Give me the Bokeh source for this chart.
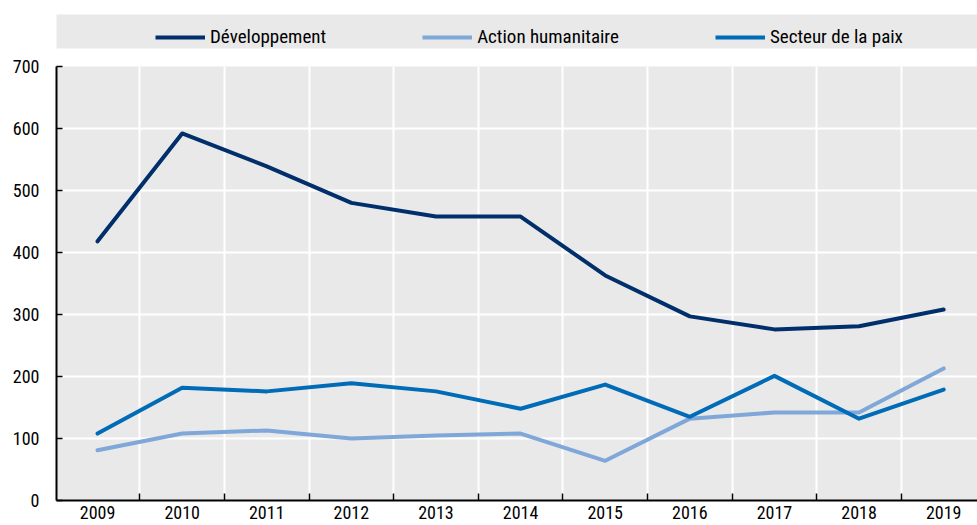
from bokeh.plotting import figure
from bokeh.models import FixedTicker, Legend, LegendItem, Range1d
from bokeh.layouts import column
from bokeh.embed import file_html
from bokeh.resources import INLINE

years = [2009, 2010, 2011, 2012, 2013, 2014, 2015, 2016, 2017, 2018, 2019]
developpement = [418, 592, 539, 480, 458, 458, 363, 297, 276, 281, 308]
action_humanitaire = [81, 108, 113, 100, 105, 108, 64, 132, 142, 142, 213]
secteur_paix = [108, 182, 176, 189, 176, 148, 187, 135, 201, 132, 179]
series_names = ["Développement", "Action humanitaire", "Secteur de la paix"]
colors = ["#002F6C", "#7FA8D9", "#006BB6"]
y_ticks = [0, 100, 200, 300, 400, 500, 600, 700]

FONT = "Roboto Condensed"
GREY = "#E9E9E9"
series = [developpement, action_humanitaire, secteur_paix]

# ---------------- main chart ----------------
p = figure(width=977, height=469, output_backend="svg", toolbar_location=None,
           x_range=Range1d(years[0] - 0.485, years[-1] + 0.40),
           y_range=Range1d(0, 700),
           min_border_left=56, min_border_right=0, min_border_top=10, min_border_bottom=25)
p.background_fill_color = GREY
p.border_fill_color = "white"
p.outline_line_color = None

for vals, c in zip(series, colors):
    p.line(years, vals, line_color=c, line_width=4, line_join="round", line_cap="round")

bounds = [y + 0.5 for y in years[:-1]]
p.xaxis.ticker = FixedTicker(ticks=years, minor_ticks=bounds)
p.xaxis.major_tick_line_color = None
p.xaxis.major_tick_out = 0
p.xaxis.major_tick_in = 0
p.xaxis.minor_tick_in = 7
p.xaxis.minor_tick_out = 0
p.xaxis.minor_tick_line_color = "black"
p.xaxis.minor_tick_line_width = 1.5
p.xaxis.axis_line_width = 2
p.xaxis.major_label_standoff = 5
p.xaxis.major_label_text_font = FONT
p.xaxis.major_label_text_font_size = "18px"
p.xaxis.major_label_text_color = "black"

p.yaxis.ticker = FixedTicker(ticks=y_ticks)
p.yaxis.major_tick_in = 6
p.yaxis.major_tick_out = 0
p.yaxis.major_tick_line_width = 1.5
p.yaxis.minor_tick_line_color = None
p.yaxis.axis_line_width = 2
p.yaxis.major_label_standoff = 17
p.yaxis.major_label_text_font = FONT
p.yaxis.major_label_text_font_size = "18px"
p.yaxis.major_label_text_color = "black"

p.xgrid.ticker = FixedTicker(ticks=bounds)
p.xgrid.grid_line_color = "white"
p.xgrid.grid_line_width = 2
p.ygrid.grid_line_color = "white"
p.ygrid.grid_line_width = 2

# ---------------- legend strip ----------------
lg = figure(width=977, height=56, output_backend="svg", toolbar_location=None,
            x_axis_type=None, y_axis_type=None,
            x_range=Range1d(years[0] - 0.485, years[-1] + 0.40),
            y_range=Range1d(1000, 1001),
            min_border_left=56, min_border_right=0, min_border_top=14, min_border_bottom=8)
lg.background_fill_color = GREY
lg.border_fill_color = "white"
lg.outline_line_color = None
lg.grid.visible = False

leg_renderers = []
for vals, c in zip(series, colors):
    leg_renderers.append(lg.line(years, vals, line_color=c, line_width=4))

legend = Legend(items=[LegendItem(label=n, renderers=[r]) for n, r in zip(series_names, leg_renderers)],
                orientation="horizontal", location=(99, 0))
legend.background_fill_alpha = 0
legend.border_line_color = None
legend.label_text_font = FONT
legend.label_text_font_size = "19px"
legend.label_text_color = "black"
legend.glyph_width = 50
legend.label_standoff = 5
legend.spacing = 96
legend.padding = 7
legend.margin = 0
legend.label_height = 20
lg.add_layout(legend, "center")

layout = column(lg, p, spacing=0)
open("out.html", "w").write(file_html(layout, INLINE))
